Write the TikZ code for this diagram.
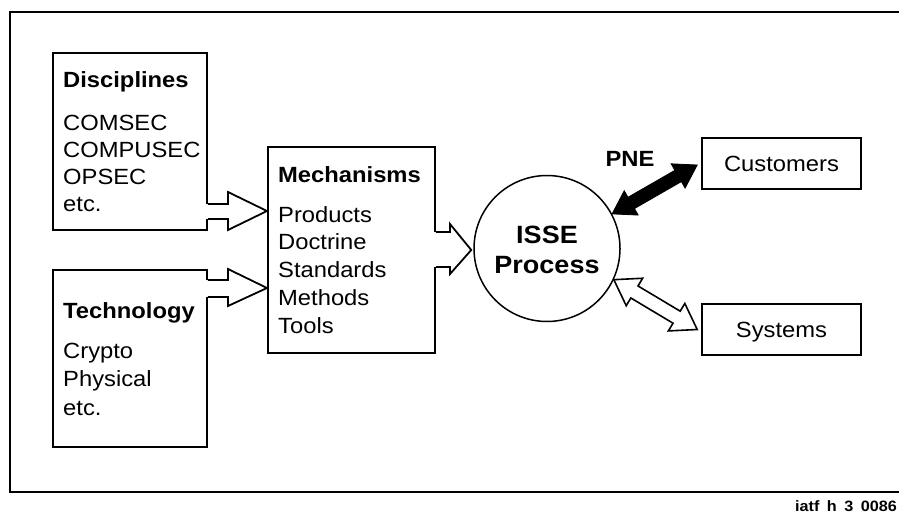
\documentclass[tikz,border=0pt]{standalone}
\usepackage{fontspec}
\setmainfont{Liberation Sans}[FakeStretch=1.08]
\usetikzlibrary{calc}
\newcommand\dblarr[6]{%
  \coordinate (#1-h) at ($(#1)!#3!(#2)$);
  \coordinate (#2-h) at ($(#2)!#3!(#1)$);
  \draw[#6] (#1)
    -- ($(#1-h)!#4!90:(#2)$) -- ($(#1-h)!#5!90:(#2)$)
    -- ($(#2-h)!#5!-90:(#1)$) -- ($(#2-h)!#4!-90:(#1)$)
    -- (#2)
    -- ($(#2-h)!#4!90:(#1)$) -- ($(#2-h)!#5!90:(#1)$)
    -- ($(#1-h)!#5!-90:(#2)$) -- ($(#1-h)!#4!-90:(#2)$)
    -- cycle;}
\begin{document}
\begin{tikzpicture}[x=1pt,y=-1pt,
  frame/.style={line width=1.3pt},
  box/.style={draw, line width=1.8pt, inner sep=0pt, anchor=north west},
  rbox/.style={draw, line width=1.6pt, inner sep=0pt, minimum width=159pt, minimum height=51pt,
    text height=16pt, text depth=0pt, font=\fontsize{22}{27}\selectfont},
  head/.style={anchor=base west, inner sep=0pt, font=\fontsize{22}{27}\selectfont\bfseries},
  item/.style={anchor=base west, inner sep=0pt, font=\fontsize{22}{27}\selectfont},
  blk/.style={line width=1.8pt, line join=miter, miter limit=10},
  bigtxt/.style={anchor=base, inner sep=0pt, font=\fontsize{25}{30}\selectfont\bfseries}]
\clip (0,0) rectangle (899,514);
\fill[white] (0,0) rectangle (899,514);
% outer frame
\draw[frame] (905,12) -- (10,12) -- (10,492) -- (905,492);
% boxes
\node[box, minimum width=154pt, minimum height=177pt] (disc) at (52,52) {};
\node[box, minimum width=154pt, minimum height=177pt] (tech) at (52,269) {};
\node[box, minimum width=167pt, minimum height=206pt] (mech) at (267,146) {};
\node[circle, draw, line width=1.5pt, minimum size=146pt, inner sep=0pt] (isse) at (547,248.5) {};
\node[rbox] (cust) at (781.5,163.5) {Customers};
\node[rbox] (sys) at (781.5,329.5) {Systems};
% texts
\node[head] (dh) at (63,87) {Disciplines};
\foreach \t [count=\i] in {COMSEC,COMPUSEC,OPSEC,etc.}
  \node[item] (d\i) at (63,{130+27*(\i-1)}) {\t};
\node[head] (th) at (63,318) {Technology};
\foreach \t [count=\i] in {Crypto,Physical,etc.}
  \node[item] (t\i) at (63,{358+28.5*(\i-1)}) {\t};
\node[head] (mh) at (278,182) {Mechanisms};
\foreach \t [count=\i] in {Products,Doctrine,Standards,Methods,Tools}
  \node[item] (m\i) at (278,{222+27.8*(\i-1)}) {\t};
\node[bigtxt] (i1) at (547,243) {ISSE};
\node[bigtxt] (i2) at (547,273) {Process};
\node[head, anchor=base] (pne) at (630,166) {PNE};
% block arrows into mechanisms
\coordinate (dtip) at (mech.west |- 0,211);
\fill[white] (203,204) rectangle (228,219);
\draw[blk] (disc.east |- 0,204) -- (228,204) -- (228,192) -- (dtip) -- (228,230) -- (228,219) -- (disc.east |- 0,219);
\coordinate (ttip) at (mech.west |- 0,288);
\fill[white] (203,280) rectangle (228,297);
\draw[blk] (tech.east |- 0,280) -- (228,280) -- (228,269) -- (ttip) -- (228,306) -- (228,297) -- (tech.east |- 0,297);
\coordinate (mtip) at ($(isse.west)+(-2,1.5)$);
\fill[white] (431,232) rectangle (450,267);
\draw[blk] (mech.east |- 0,232) -- (450,232) -- (450,224) -- (mtip) -- (450,274) -- (450,267) -- (mech.east |- 0,267);
% double arrows
\coordinate (pa) at (isse.28.5);
\coordinate (pb) at ($(cust.west)+(-4,1.5)$);
\dblarr{pa}{pb}{22pt}{14pt}{6.5pt}{fill=black, line width=0.8pt, line join=miter}
\coordinate (sa) at (isse.-25);
\coordinate (sb) at ($(sys.west)+(-4,0)$);
\dblarr{sa}{sb}{24pt}{16pt}{7pt}{fill=white, line width=1.6pt, line join=miter}
% footer
\node[anchor=base west, inner sep=0pt, font=\fontsize{15}{18}\selectfont\bfseries] (foot) at (795,511) {iatf\hspace{7.5pt}h\hspace{7.5pt}3\hspace{7.5pt}0086};
\end{tikzpicture}
\end{document}
